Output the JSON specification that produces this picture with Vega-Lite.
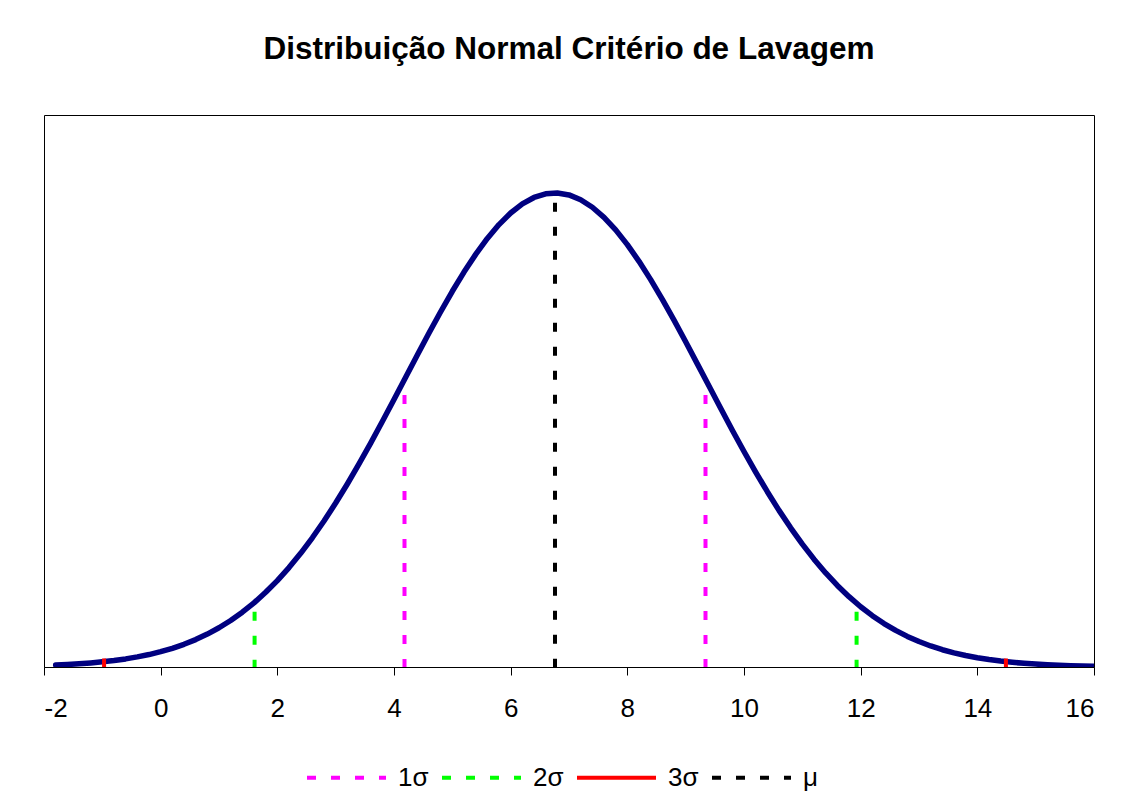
{
  "$schema": "https://vega.github.io/schema/vega-lite/v6.json",
  "autosize": {"type": "none"},
  "width": 1050,
  "height": 552,
  "padding": {"left": 44, "top": 115, "right": 39, "bottom": 134},
  "background": "white",
  "config": {
    "font": "Liberation Sans",
    "view": {"stroke": "black", "strokeWidth": 1}
  },
  "title": {
    "text": "Distribuição Normal Critério de Lavagem",
    "font": "Liberation Sans",
    "fontSize": 31.5,
    "fontWeight": "bold",
    "color": "black",
    "anchor": "middle",
    "baseline": "alphabetic",
    "offset": 25
  },
  "datasets": {
    "curve": [
      {"x": -1.8, "y": 0.00063}, {"x": -1.6, "y": 0.00081}, {"x": -1.4, "y": 0.00104}, {"x": -1.2, "y": 0.00133},
      {"x": -1.0, "y": 0.00168}, {"x": -0.8, "y": 0.00211}, {"x": -0.6, "y": 0.00264}, {"x": -0.4, "y": 0.00329},
      {"x": -0.2, "y": 0.00406}, {"x": 0.0, "y": 0.00499}, {"x": 0.2, "y": 0.0061}, {"x": 0.4, "y": 0.00741},
      {"x": 0.6, "y": 0.00894}, {"x": 0.8, "y": 0.01073}, {"x": 1.0, "y": 0.01279}, {"x": 1.2, "y": 0.01516},
      {"x": 1.4, "y": 0.01787}, {"x": 1.6, "y": 0.02092}, {"x": 1.8, "y": 0.02437}, {"x": 2.0, "y": 0.02818},
      {"x": 2.2, "y": 0.03242}, {"x": 2.4, "y": 0.03707}, {"x": 2.6, "y": 0.04213}, {"x": 2.8, "y": 0.0476},
      {"x": 3.0, "y": 0.05346}, {"x": 3.2, "y": 0.05968}, {"x": 3.4, "y": 0.06622}, {"x": 3.6, "y": 0.07302},
      {"x": 3.8, "y": 0.08005}, {"x": 4.0, "y": 0.08724}, {"x": 4.2, "y": 0.09449}, {"x": 4.4, "y": 0.10174},
      {"x": 4.6, "y": 0.10889}, {"x": 4.8, "y": 0.11584}, {"x": 5.0, "y": 0.12251}, {"x": 5.2, "y": 0.12877},
      {"x": 5.4, "y": 0.13455}, {"x": 5.6, "y": 0.13973}, {"x": 5.8, "y": 0.14426}, {"x": 6.0, "y": 0.14803},
      {"x": 6.2, "y": 0.151}, {"x": 6.4, "y": 0.1531}, {"x": 6.6, "y": 0.15431}, {"x": 6.8, "y": 0.15458},
      {"x": 7.0, "y": 0.15394}, {"x": 7.2, "y": 0.15237}, {"x": 7.4, "y": 0.14992}, {"x": 7.6, "y": 0.14662},
      {"x": 7.8, "y": 0.14254}, {"x": 8.0, "y": 0.13773}, {"x": 8.2, "y": 0.13229}, {"x": 8.4, "y": 0.12632},
      {"x": 8.6, "y": 0.11989}, {"x": 8.8, "y": 0.11311}, {"x": 9.0, "y": 0.10606}, {"x": 9.2, "y": 0.09885},
      {"x": 9.4, "y": 0.0916}, {"x": 9.6, "y": 0.08435}, {"x": 9.8, "y": 0.07722}, {"x": 10.0, "y": 0.07027},
      {"x": 10.2, "y": 0.06356}, {"x": 10.4, "y": 0.05716}, {"x": 10.6, "y": 0.05108}, {"x": 10.8, "y": 0.04538},
      {"x": 11.0, "y": 0.04006}, {"x": 11.2, "y": 0.03516}, {"x": 11.4, "y": 0.03067}, {"x": 11.6, "y": 0.02661},
      {"x": 11.8, "y": 0.02294}, {"x": 12.0, "y": 0.01965}, {"x": 12.2, "y": 0.01674}, {"x": 12.4, "y": 0.01417},
      {"x": 12.6, "y": 0.01193}, {"x": 12.8, "y": 0.00998}, {"x": 13.0, "y": 0.0083}, {"x": 13.2, "y": 0.00686},
      {"x": 13.4, "y": 0.00563}, {"x": 13.6, "y": 0.0046}, {"x": 13.8, "y": 0.00374}, {"x": 14.0, "y": 0.00302},
      {"x": 14.2, "y": 0.00242}, {"x": 14.4, "y": 0.00193}, {"x": 14.6, "y": 0.00153}, {"x": 14.8, "y": 0.0012},
      {"x": 15.0, "y": 0.00094}, {"x": 15.2, "y": 0.00073}, {"x": 15.4, "y": 0.00057}, {"x": 15.6, "y": 0.00044},
      {"x": 15.8, "y": 0.00033}, {"x": 16.0, "y": 0.00025}
    ],
    "lines": [
      {"x": 4.18, "top": 0.0887, "serie": "1σ"},
      {"x": 9.34, "top": 0.0887, "serie": "1σ"},
      {"x": 1.61, "top": 0.0180, "serie": "2σ"},
      {"x": 11.93, "top": 0.0180, "serie": "2σ"},
      {"x": -0.97, "top": 0.0028, "serie": "3σ"},
      {"x": 14.49, "top": 0.0028, "serie": "3σ"},
      {"x": 6.76, "top": 0.1514, "serie": "μ"}
    ]
  },
  "layer": [
    {
      "data": {"name": "curve"},
      "mark": {"type": "line", "color": "#000080", "strokeWidth": 5.5, "strokeJoin": "round", "strokeCap": "round", "clip": true},
      "encoding": {
        "x": {
          "field": "x", "type": "quantitative",
          "scale": {"domain": [-2, 16], "nice": false, "zero": false},
          "axis": {
            "title": null,
            "values": [-2, 0, 2, 4, 6, 8, 10, 12, 14, 16],
            "grid": false,
            "domainColor": "black",
            "domainWidth": 1,
            "tickColor": "black",
            "tickSize": 8,
            "tickWidth": 1,
            "labelFont": "Liberation Sans",
            "labelFontSize": 26,
            "labelColor": "black",
            "labelPadding": 20,
            "labelExpr": "datum.value + ''"
          }
        },
        "y": {
          "field": "y", "type": "quantitative",
          "scale": {"domain": [0, 0.18], "nice": false},
          "axis": null
        }
      }
    },
    {
      "data": {"name": "lines"},
      "mark": {"type": "rule", "strokeCap": "butt"},
      "encoding": {
        "x": {"field": "x", "type": "quantitative"},
        "y": {"field": "top", "type": "quantitative"},
        "y2": {"datum": 0},
        "color": {
          "field": "serie", "type": "nominal",
          "scale": {"domain": ["1σ", "2σ", "3σ", "μ"], "range": ["#FF00FF", "#00FF00", "#FF0000", "#000000"]},
          "legend": {
            "title": null,
            "orient": "none",
            "direction": "horizontal",
            "legendX": 261,
            "legendY": 621,
            "padding": 0,
            "symbolType": "stroke",
            "symbolSize": 6241,
            "labelFont": "Liberation Sans",
            "labelFontSize": 26,
            "labelColor": "black",
            "labelOffset": 10,
            "columnPadding": 5
          }
        },
        "strokeDash": {
          "field": "serie", "type": "nominal",
          "scale": {"domain": ["1σ", "2σ", "3σ", "μ"], "range": [[9, 15], [9, 15], [1, 0], [9, 15]]}
        },
        "strokeWidth": {
          "field": "serie", "type": "nominal",
          "scale": {"domain": ["1σ", "2σ", "3σ", "μ"], "range": [4, 4, 5, 4]}
        }
      }
    }
  ]
}
